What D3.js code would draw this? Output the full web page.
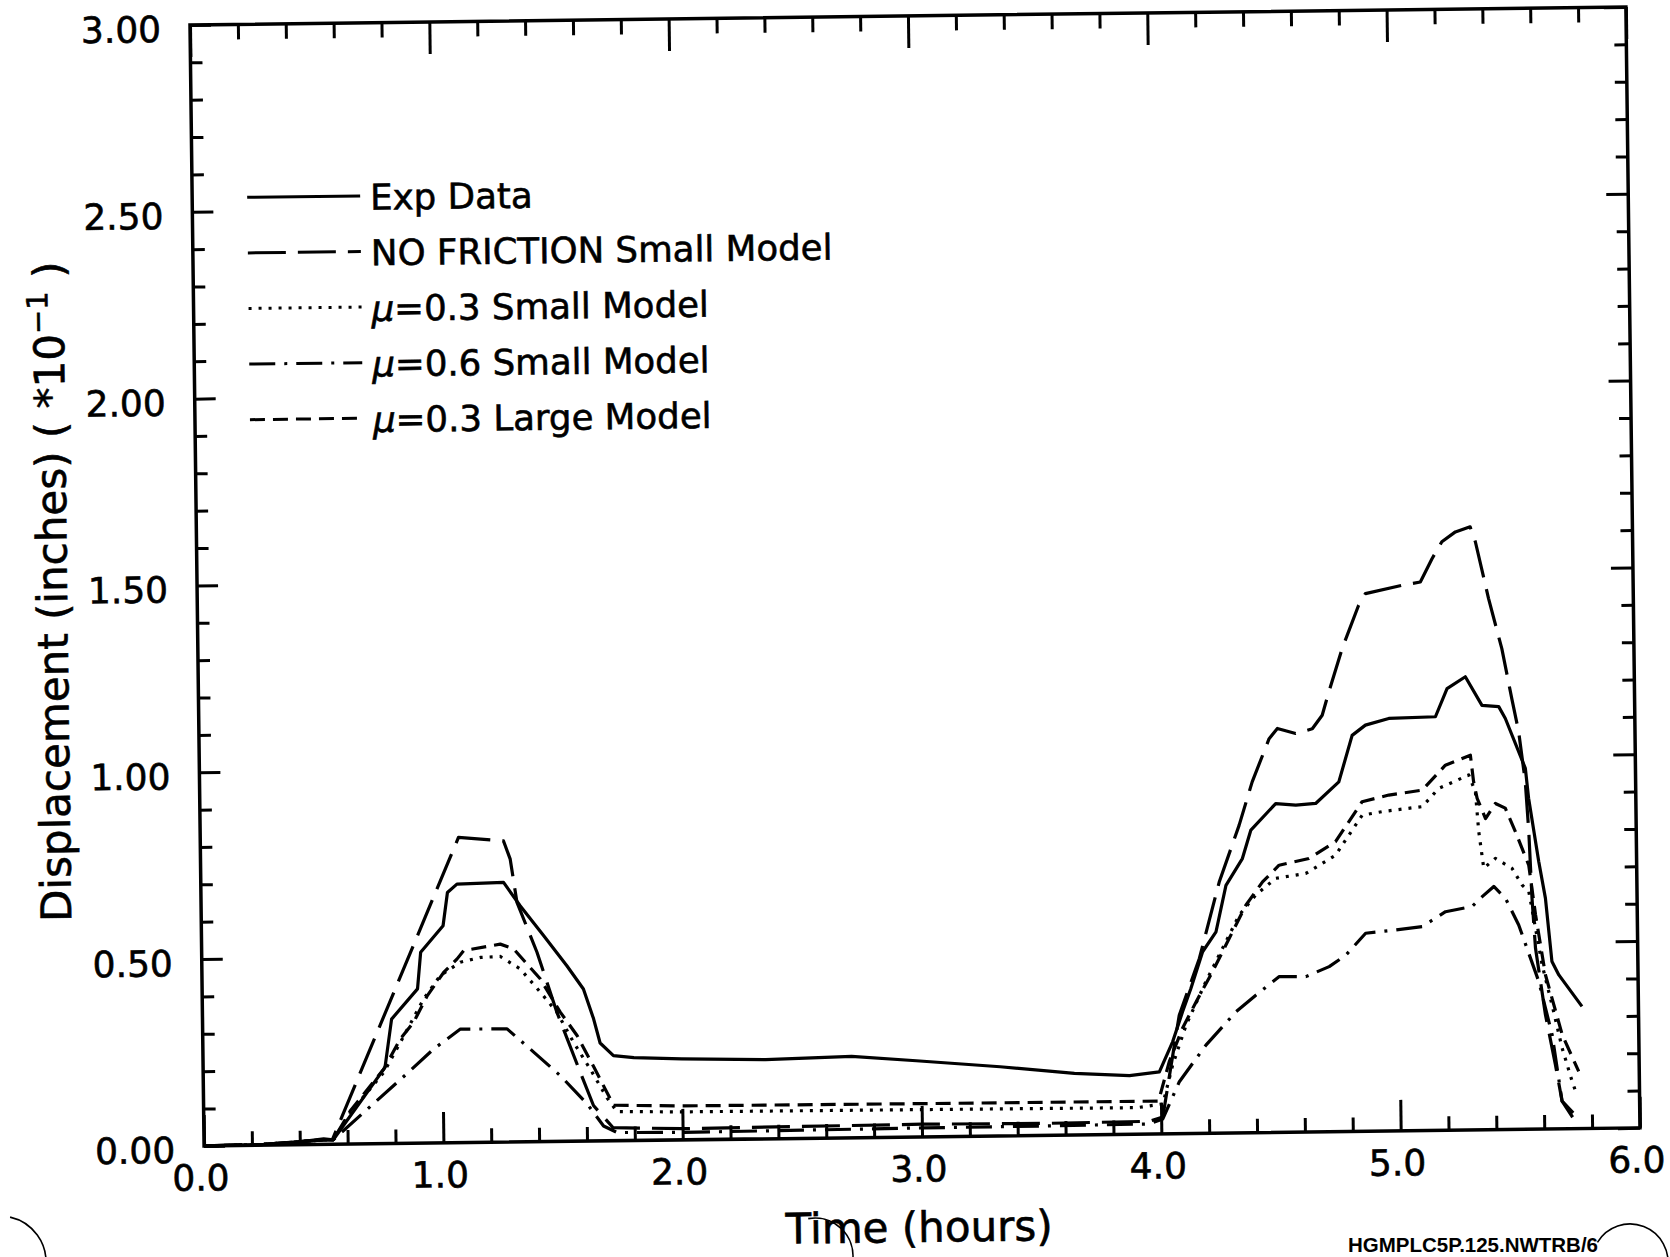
<!DOCTYPE html>
<html><head><meta charset="utf-8">
<script src="https://cdn.jsdelivr.net/npm/d3@7"></script>
<style>
html,body{margin:0;padding:0;background:#fff;}
svg{display:block;background:#fff;}
text{font-family:"DejaVu Sans",sans-serif;fill:#000;}
</style></head><body>
<svg id="chart" width="1670" height="1257"></svg>
<script>
// ---------------- data ----------------
const xTickValues = [0, 1, 2, 3, 4, 5, 6];
const xTickLabels = ["0.0", "1.0", "2.0", "3.0", "4.0", "5.0", "6.0"];
const yTickValues = [0, 0.5, 1.0, 1.5, 2.0, 2.5, 3.0];
const yTickLabels = ["0.00", "0.50", "1.00", "1.50", "2.00", "2.50", "3.00"];
const seriesNames = ["Exp Data", "NO FRICTION Small Model", "μ=0.3 Small Model", "μ=0.6 Small Model", "μ=0.3 Large Model"];
const xTitle = "Time (hours)";
const yTitle = "Displacement (inches) ( *10";
const yTitleSup = "−1";
const footerText = "HGMPLC5P.125.NWTRB/6";

// [time (hours), displacement (inches *10^-1)]
const expData = [[0,0],[0.25,0.002],[0.40,0.008],[0.50,0.015],[0.54,0.012],[0.76,0.204],[0.79,0.333],[0.90,0.413],[0.915,0.511],[1.01,0.581],[1.03,0.67],[1.07,0.692],[1.265,0.695],[1.333,0.632],[1.43,0.551],[1.525,0.47],[1.593,0.407],[1.634,0.327],[1.66,0.262],[1.715,0.228],[1.80,0.222],[2.0,0.217],[2.35,0.212],[2.71,0.218],[2.98,0.204],[3.33,0.185],[3.64,0.165],[3.87,0.157],[3.995,0.166],[4.052,0.246],[4.095,0.326],[4.131,0.388],[4.182,0.486],[4.239,0.539],[4.283,0.663],[4.353,0.734],[4.39,0.81],[4.495,0.88],[4.579,0.875],[4.662,0.879],[4.76,0.936],[4.818,1.06],[4.874,1.087],[4.972,1.104],[5.167,1.107],[5.217,1.182],[5.294,1.213],[5.362,1.136],[5.432,1.132],[5.459,1.10],[5.54,0.966],[5.552,0.886],[5.591,0.716],[5.617,0.618],[5.641,0.448],[5.669,0.412],[5.764,0.327]];
const noFrictionData = [[0,0],[0.25,0.002],[0.40,0.008],[0.50,0.012],[0.536,0.012],[1.079,0.817],[1.267,0.806],[1.294,0.757],[1.32,0.641],[1.401,0.507],[1.481,0.346],[1.575,0.185],[1.629,0.095],[1.71,0.035],[2.0,0.03],[2.5,0.032],[3.0,0.034],[3.5,0.032],[3.95,0.034],[4.007,0.045],[4.081,0.317],[4.168,0.468],[4.255,0.672],[4.341,0.823],[4.398,0.939],[4.471,1.054],[4.506,1.081],[4.582,1.067],[4.652,1.079],[4.694,1.115],[4.723,1.177],[4.781,1.293],[4.852,1.408],[4.881,1.439],[5.034,1.46],[5.111,1.468],[5.161,1.53],[5.203,1.575],[5.26,1.601],[5.322,1.614],[5.343,1.574],[5.395,1.422],[5.448,1.287],[5.487,1.153],[5.514,1.064],[5.539,0.93],[5.551,0.797],[5.561,0.618],[5.573,0.484],[5.611,0.306],[5.65,0.172],[5.676,0.074],[5.72,0.03]];
const mu03SmallData = [[0,0],[0.25,0.002],[0.40,0.008],[0.50,0.012],[0.54,0.012],[0.614,0.085],[0.755,0.191],[0.826,0.271],[0.925,0.386],[0.996,0.448],[1.08,0.483],[1.164,0.495],[1.247,0.497],[1.33,0.463],[1.413,0.40],[1.481,0.346],[1.549,0.265],[1.617,0.193],[1.686,0.115],[1.727,0.078],[2.0,0.075],[3.0,0.073],[3.9,0.071],[4.008,0.08],[4.051,0.184],[4.109,0.29],[4.194,0.406],[4.265,0.494],[4.337,0.583],[4.407,0.636],[4.491,0.68],[4.617,0.692],[4.743,0.74],[4.771,0.767],[4.856,0.846],[4.94,0.855],[5.107,0.867],[5.177,0.915],[5.303,0.95],[5.33,0.905],[5.342,0.798],[5.361,0.70],[5.41,0.726],[5.479,0.699],[5.52,0.654],[5.548,0.636],[5.60,0.439],[5.639,0.332],[5.679,0.216],[5.719,0.127],[5.733,0.10]];
const mu06SmallData = [[0,0],[0.25,0.002],[0.40,0.008],[0.50,0.012],[0.54,0.012],[0.866,0.195],[0.965,0.252],[1.077,0.304],[1.272,0.303],[1.382,0.24],[1.492,0.176],[1.602,0.1],[1.67,0.04],[1.726,0.022],[2.0,0.02],[2.5,0.022],[3.0,0.024],[3.5,0.025],[3.95,0.027],[4.007,0.04],[4.078,0.139],[4.191,0.236],[4.318,0.324],[4.402,0.368],[4.501,0.417],[4.612,0.416],[4.71,0.442],[4.78,0.472],[4.864,0.53],[4.99,0.538],[5.101,0.546],[5.199,0.585],[5.31,0.598],[5.353,0.624],[5.402,0.651],[5.45,0.619],[5.504,0.547],[5.585,0.395],[5.638,0.252],[5.676,0.074],[5.74,0.03]];
const mu03LargeData = [[0,0],[0.25,0.002],[0.40,0.008],[0.50,0.012],[0.54,0.012],[0.614,0.09],[0.755,0.20],[0.826,0.28],[0.882,0.324],[0.94,0.394],[1.01,0.456],[1.067,0.492],[1.095,0.514],[1.248,0.53],[1.303,0.517],[1.413,0.436],[1.495,0.346],[1.564,0.283],[1.631,0.2],[1.713,0.095],[2.0,0.091],[3.0,0.089],[3.9,0.088],[3.99,0.088],[4.037,0.193],[4.094,0.282],[4.152,0.352],[4.222,0.432],[4.294,0.521],[4.365,0.609],[4.436,0.671],[4.506,0.715],[4.631,0.732],[4.743,0.776],[4.856,0.882],[4.968,0.899],[5.108,0.911],[5.206,0.977],[5.311,1.003],[5.323,0.932],[5.337,0.887],[5.371,0.833],[5.413,0.873],[5.454,0.86],[5.495,0.797],[5.549,0.707],[5.575,0.573],[5.613,0.413],[5.68,0.252],[5.747,0.153]];

// ---------------- layout / style ----------------
const W = 1436, H = 1121;
const dashStyles = ["none", "38,12", "3,7", "26,9,3,9", "15,8"];
const seriesData = [expData, noFrictionData, mu03SmallData, mu06SmallData, mu03LargeData];

const svg = d3.select("#chart");
svg.append("rect").attr("width", 1670).attr("height", 1257).attr("fill", "#fff");
const g = svg.append("g").attr("transform", "translate(190,25) rotate(-0.72)");

const x = d3.scaleLinear().domain([0, 6]).range([0, W]);
const y = d3.scaleLinear().domain([0, 3]).range([H, 0]);

const xMinor = x.ticks(24).filter(d => Math.abs(d - Math.round(d)) > 1e-6);
const yMinor = y.ticks(30).filter(d => Math.abs(d * 2 - Math.round(d * 2)) > 1e-6);

function styleAxis(sel) {
  sel.select(".domain").remove();
  sel.selectAll(".tick line").attr("stroke", "#000").attr("stroke-width", 3);
  sel.attr("font-family", "DejaVu Sans").attr("font-size", 36);
  sel.selectAll(".tick text").attr("fill", "#000").attr("stroke", "#000").attr("stroke-width", 0.6);
}

// bottom
g.append("g").attr("transform", `translate(0,${H})`)
  .call(d3.axisBottom(x).tickValues(xMinor).tickSize(-14).tickFormat("")).call(styleAxis);
const xb = g.append("g").attr("transform", `translate(0,${H})`)
  .call(d3.axisBottom(x).tickValues(xTickValues).tickSize(-31).tickPadding(19)
    .tickFormat((d, i) => xTickLabels[i])).call(styleAxis);
xb.selectAll(".tick text").attr("x", -4);
// top
g.append("g").call(d3.axisTop(x).tickValues(xMinor).tickSize(-15).tickFormat("")).call(styleAxis);
g.append("g").call(d3.axisTop(x).tickValues(xTickValues).tickSize(-32).tickFormat("")).call(styleAxis);
// left
g.append("g").call(d3.axisLeft(y).tickValues(yMinor).tickSize(-12).tickFormat("")).call(styleAxis);
const yl = g.append("g").call(d3.axisLeft(y).tickValues(yTickValues).tickSize(-21).tickPadding(29)
  .tickFormat((d, i) => yTickLabels[i])).call(styleAxis);
yl.selectAll(".tick text").attr("dy", "0.45em");
// right
g.append("g").attr("transform", `translate(${W},0)`)
  .call(d3.axisRight(y).tickValues(yMinor).tickSize(-12).tickFormat("")).call(styleAxis);
g.append("g").attr("transform", `translate(${W},0)`)
  .call(d3.axisRight(y).tickValues(yTickValues).tickSize(-22).tickFormat("")).call(styleAxis);

// frame
g.append("rect").attr("x", 0).attr("y", 0).attr("width", W).attr("height", H)
  .attr("fill", "none").attr("stroke", "#000").attr("stroke-width", 3.5);

// lines
const line = d3.line().x(d => x(d[0])).y(d => y(d[1]));
seriesData.forEach((data, i) => {
  g.append("path").datum(data).attr("d", line)
    .attr("fill", "none").attr("stroke", "#000").attr("stroke-width", 3.2)
    .attr("stroke-linejoin", "round")
    .attr("stroke-dasharray", dashStyles[i]);
});

// legend
seriesNames.forEach((name, i) => {
  const ly = 173 + 55.6 * i;
  g.append("line").attr("x1", 55).attr("x2", 168).attr("y1", ly).attr("y2", ly)
    .attr("stroke", "#000").attr("stroke-width", 3).attr("stroke-dasharray", dashStyles[i]);
  const t = g.append("text").attr("x", 178).attr("y", ly + 14).attr("font-size", 35.6)
    .attr("stroke", "#000").attr("stroke-width", 0.6);
  if (name.startsWith("μ")) {
    t.append("tspan").attr("font-style", "italic").text("μ");
    t.append("tspan").text(name.slice(1));
  } else {
    t.text(name);
  }
});

// axis titles
g.append("text").attr("x", 714).attr("y", 1226).attr("text-anchor", "middle")
  .attr("font-size", 42).attr("stroke", "#000").attr("stroke-width", 0.6).text(xTitle);
const yt = g.append("text").attr("transform", "translate(-130,565) rotate(-90)")
  .attr("text-anchor", "middle").attr("font-size", 42)
  .attr("stroke", "#000").attr("stroke-width", 0.6);
yt.append("tspan").text(yTitle);
yt.append("tspan").attr("font-size", 29).attr("dy", -16).text(yTitleSup);
yt.append("tspan").attr("dy", 16).text(" )");

// scan artefacts (hole-punch arcs) and footer
const arcs = [[0, 1262, 46, -1.35, 0.1], [815, 1256, 38, -1.75, 0.1], [1630, 1262, 38, -2.6, 0.2]];
arcs.forEach(a => {
  const p = d3.path();
  p.arc(a[0], a[1], a[2], a[3], a[4]);
  svg.append("path").attr("d", p.toString()).attr("fill", "none")
    .attr("stroke", "#000").attr("stroke-width", 1.6);
});
svg.append("text").attr("x", 1348).attr("y", 1252)
  .style("font-family", "'Liberation Sans', Arial, sans-serif")
  .attr("font-weight", "bold").attr("font-size", 20).attr("textLength", 250)
  .attr("lengthAdjust", "spacingAndGlyphs").text(footerText);
</script>
</body></html>
